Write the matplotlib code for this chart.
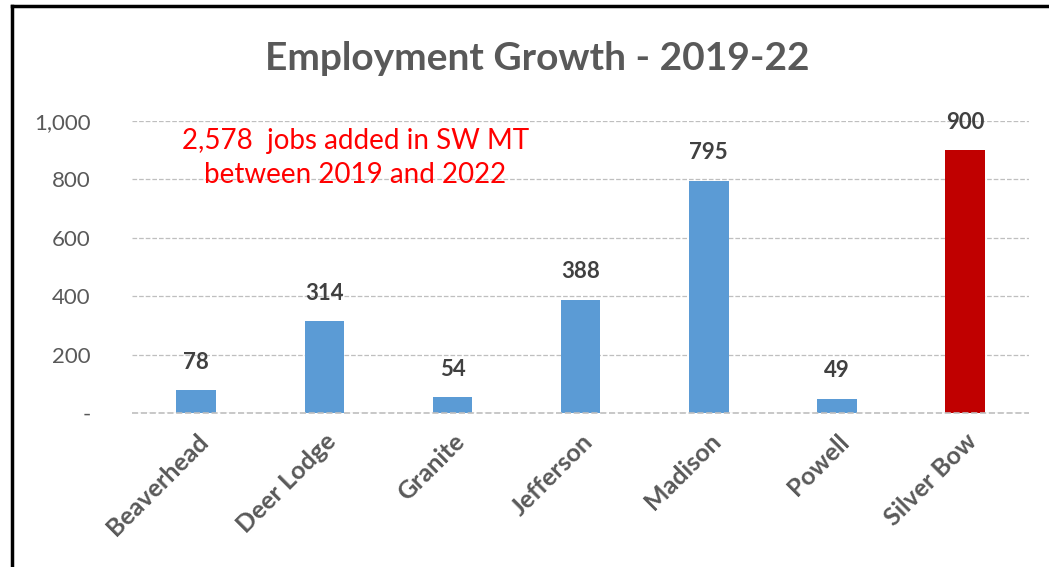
import numpy as np
import matplotlib.pyplot as plt
from matplotlib.lines import Line2D

counties = ['Beaverhead', 'Deer Lodge', 'Granite', 'Jefferson', 'Madison', 'Powell', 'Silver Bow']
jobs_added = [78, 314, 54, 388, 795, 49, 900]
bar_colors = ['#5B9BD5'] * 6 + ['#C00000']
y_ticks = [0, 200, 400, 600, 800, 1000]
y_tick_labels = ['-', '200', '400', '600', '800', '1,000']

plt.rcParams['font.family'] = ['Lato', 'DejaVu Sans']

fig = plt.figure(figsize=(10.49, 5.67), dpi=100)
ax = fig.add_axes([0.126, 0.2716, 0.855, 0.515])

x = np.arange(len(counties))
ax.bar(x, jobs_added, width=0.31, color=bar_colors, zorder=3)

for xi, v in zip(x, jobs_added):
    ax.text(xi, v + 60, str(v), ha='center', va='bottom', fontsize=16,
            fontweight='bold', color='#404040')

ax.set_xlim(-0.5, len(counties) - 0.5)
ax.set_ylim(0, 1000)
ax.set_yticks(y_ticks)
ax.set_yticklabels(y_tick_labels, fontsize=16, color='#595959')
ax.set_xticks(x)
ax.set_xticklabels(counties, rotation=45, ha='right', rotation_mode='anchor',
                   fontsize=18, fontweight='bold', color='#595959')
ax.tick_params(axis='both', length=0)
ax.tick_params(axis='y', pad=30)
ax.tick_params(axis='x', pad=12)

for s in ax.spines.values():
    s.set_visible(False)
ax.grid(axis='y', color='#BFBFBF', linestyle='--', linewidth=0.9, zorder=0)
ax.axhline(0, color='#BFBFBF', linestyle='--', linewidth=1.2, zorder=4, clip_on=False)
ax.set_axisbelow(True)

ax.text(0.249, 0.975, '2,578  jobs added in SW MT\nbetween 2019 and 2022',
        transform=ax.transAxes, ha='center', va='top', fontsize=20,
        color='#FF0000', linespacing=1.35)

fig.text(0.512, 0.897, 'Employment Growth - 2019-22', ha='center', va='center',
         fontsize=28, fontweight='bold', color='#595959')

# outer frame (left and top edges visible)
fig.add_artist(Line2D([0.011, 0.011], [0.0, 0.99], color='black', linewidth=2.5,
                      transform=fig.transFigure))
fig.add_artist(Line2D([0.011, 1.0], [0.99, 0.99], color='black', linewidth=2.5,
                      transform=fig.transFigure))

fig.savefig('out.png', dpi=100)
